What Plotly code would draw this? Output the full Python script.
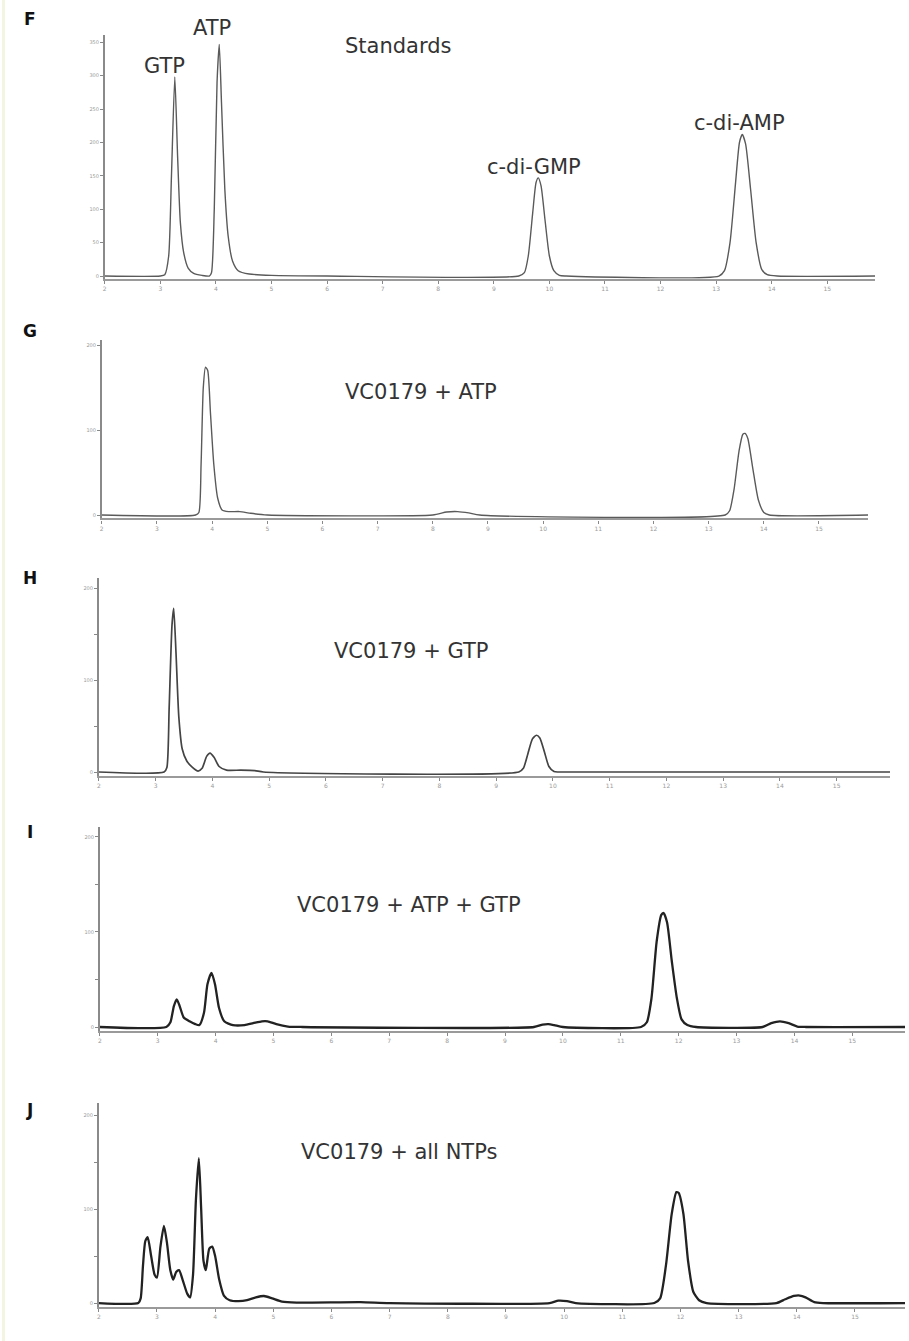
import plotly.graph_objects as go

W, H = 909, 1341

# ---------------- data ----------------
# retention time (min) / absorbance (arbitrary units)
f_time = [2.0, 3.0, 3.08, 3.15, 3.2, 3.26, 3.31, 3.36, 3.42, 3.5, 3.6, 3.75, 3.88,
          3.92, 3.97, 4.02, 4.06, 4.1, 4.16, 4.22, 4.3, 4.4, 4.6, 5.0, 6.0,
          9.45, 9.55, 9.62, 9.7, 9.76, 9.8, 9.85, 9.92, 10.0, 10.08, 10.18, 10.3,
          13.05, 13.15, 13.25, 13.35, 13.42, 13.47, 13.53, 13.62, 13.72, 13.82, 13.92, 14.1, 15.86]
f_signal = [0, 0, 2, 30, 150, 298, 180, 80, 35, 12, 4, 1, 0,
            5, 100, 290, 347, 260, 130, 60, 22, 8, 3, 1, 0,
            0, 5, 30, 95, 140, 147, 135, 85, 30, 8, 1, 0,
            0, 8, 50, 140, 200, 212, 198, 130, 50, 10, 2, 0, 0]

g_time = [2.0, 3.7, 3.76, 3.8, 3.84, 3.88, 3.92, 3.97, 4.03, 4.1, 4.18, 4.3, 4.5, 4.7, 5.0,
          8.0, 8.25, 8.45, 8.65, 8.85,
          13.3, 13.38, 13.46, 13.55, 13.62, 13.66, 13.71, 13.8, 13.9, 14.0, 14.1, 15.89]
g_signal = [0, 0, 3, 60, 150, 174, 170, 120, 60, 20, 6, 4, 4, 2, 0,
            0, 3.5, 4, 2.5, 0,
            0, 5, 30, 75, 95, 96, 90, 55, 18, 3, 0, 0]

h_time = [2.0, 3.15, 3.2, 3.24, 3.29, 3.32, 3.36, 3.41, 3.47, 3.55, 3.65, 3.75,
          3.82, 3.9, 3.96, 4.03, 4.12, 4.25, 4.5, 4.75, 4.9,
          9.4, 9.48, 9.56, 9.64, 9.71, 9.77, 9.85, 9.93, 10.02, 10.1, 15.94]
h_signal = [0, 0, 5, 70, 160, 178, 130, 60, 25, 12, 5, 1,
            4, 17, 20.5, 16, 6, 2, 2, 1.5, 0,
            0, 4, 20, 36, 40, 37, 22, 6, 0.5, 0, 0]

i_time = [2.0, 3.15, 3.22, 3.28, 3.33, 3.38, 3.45, 3.55, 3.65, 3.72,
          3.8, 3.86, 3.93, 3.99, 4.06, 4.15, 4.3, 4.5, 4.65, 4.8, 4.9, 5.05, 5.25, 5.5,
          9.5, 9.65, 9.75, 9.85, 10.0,
          11.35, 11.45, 11.53, 11.62, 11.7, 11.74, 11.8, 11.88, 11.97, 12.05, 12.15, 12.3,
          13.45, 13.6, 13.75, 13.9, 14.05, 14.2, 15.91]
i_signal = [0, 0, 5, 22, 29, 22, 10, 6, 3, 2,
            15, 45, 57, 45, 20, 6, 2, 2, 4, 6, 6, 3, 0.5, 0,
            0, 2.5, 3, 2, 0,
            0, 5, 30, 90, 118, 120, 110, 70, 30, 8, 2, 0,
            0, 4, 6, 4, 0.5, 0, 0]

j_time = [2.0, 2.68, 2.72, 2.76, 2.8, 2.84, 2.9, 2.96, 3.0, 3.06, 3.12, 3.17, 3.23, 3.28,
          3.33, 3.38, 3.44, 3.52, 3.57, 3.62, 3.67, 3.72, 3.76, 3.8, 3.84, 3.9, 3.95,
          4.0, 4.07, 4.15, 4.25, 4.4, 4.55, 4.7, 4.84, 4.98, 5.15, 5.4, 6.5, 7.0,
          9.75, 9.9, 10.05, 10.2,
          11.55, 11.65, 11.75, 11.85, 11.93, 11.97, 12.05, 12.13, 12.22, 12.32, 12.45,
          13.65, 13.8, 13.95, 14.05, 14.15, 14.3, 14.45, 15.86]
j_signal = [0, 0, 5, 40, 66, 70, 50, 30, 27, 60, 82, 65, 35, 25,
            33, 35, 25, 10, 6, 30, 110, 154, 100, 45, 35, 58, 60,
            50, 25, 8, 3, 2, 3, 6, 7.5, 5, 1.5, 0.5, 1, 0,
            0, 2.5, 2, 0,
            0, 5, 40, 95, 118, 117, 95, 45, 12, 3, 0,
            0, 4, 7.5, 8, 6, 1, 0, 0]

x_ticks = [2, 3, 4, 5, 6, 7, 8, 9, 10, 11, 12, 13, 14, 15]
f_yticks = [0, 50, 100, 150, 200, 250, 300, 350]
g_yticks = [0, 100, 200]
hij_yticks = [0, 50, 100, 150, 200]
hij_yticktext = ["0", "", "100", "", "200"]

panel_letters = ["F", "G", "H", "I", "J"]
panel_titles = ["Standards", "VC0179 + ATP", "VC0179 + GTP",
                "VC0179 + ATP + GTP", "VC0179 + all NTPs"]
peak_names = ["GTP", "ATP", "c-di-GMP", "c-di-AMP"]

# ---------------- layout spec (pixels) ----------------
panels = [
    dict(t=f_time, s=f_signal, l=103, r=875, xmax=15.86, top=35, bot=278.7, ymin=-4, ymax=361,
         yt=f_yticks, ytt=[str(v) for v in f_yticks], col="#5a5a5a", w=1.4),
    dict(t=g_time, s=g_signal, l=100, r=868, xmax=15.89, top=340, bot=518.4, ymin=-4, ymax=206,
         yt=g_yticks, ytt=[str(v) for v in g_yticks], col="#5a5a5a", w=1.4),
    dict(t=h_time, s=h_signal, l=97, r=890, xmax=15.94, top=578, bot=775.7, ymin=-4, ymax=211,
         yt=hij_yticks, ytt=hij_yticktext, col="#444444", w=1.7),
    dict(t=i_time, s=i_signal, l=98, r=905, xmax=15.91, top=827, bot=1030.8, ymin=-4, ymax=210.5,
         yt=hij_yticks, ytt=hij_yticktext, col="#222222", w=2.3),
    dict(t=j_time, s=j_signal, l=97, r=905, xmax=15.86, top=1103, bot=1306.8, ymin=-4, ymax=212.8,
         yt=hij_yticks, ytt=hij_yticktext, col="#222222", w=2.3),
]

fig = go.Figure()
layout = dict(width=W, height=H, margin=dict(l=0, r=0, t=0, b=0),
              paper_bgcolor="white", plot_bgcolor="white", showlegend=False)

for k, p in enumerate(panels):
    n = "" if k == 0 else str(k + 1)
    fig.add_trace(go.Scatter(x=p["t"], y=p["s"], mode="lines",
                             line=dict(color=p["col"], width=p["w"], shape="spline", smoothing=0.6),
                             xaxis="x" + n, yaxis="y" + n, hoverinfo="skip"))
    layout["xaxis" + n] = dict(
        domain=[p["l"] / W, p["r"] / W], range=[2, p["xmax"]], anchor="y" + n,
        tickvals=x_ticks, ticks="outside", ticklen=3, tickcolor="#888", tickwidth=1,
        showline=True, linecolor="#9a9a9a", linewidth=2.2, showgrid=False, zeroline=False,
        tickfont=dict(size=6, color="#9a9a9a", family="DejaVu Sans"))
    layout["yaxis" + n] = dict(
        domain=[1 - p["bot"] / H, 1 - p["top"] / H], range=[p["ymin"], p["ymax"]],
        anchor="x" + n, tickvals=p["yt"], ticktext=p["ytt"], ticks="outside", ticklen=3,
        tickcolor="#888", showline=True, linecolor="#8a8a8a", linewidth=1.6,
        showgrid=False, zeroline=False,
        tickfont=dict(size=5, color="#9a9a9a", family="DejaVu Sans"))

fig.update_layout(**layout)

def px_ann(text, x, y, size, bold=False, color="#333333"):
    fig.add_annotation(text=("<b>%s</b>" % text) if bold else text,
                       x=x / W, y=1 - y / H, xref="paper", yref="paper",
                       showarrow=False, xanchor="center", yanchor="middle",
                       font=dict(family="DejaVu Sans", size=size, color=color))

letter_pos = [(28, 19), (28, 331), (28, 578), (28, 832), (28, 1110)]
for t, (x, y) in zip(panel_letters, letter_pos):
    px_ann(t, x, y, 17, bold=True, color="#111111")

title_pos = [(397, 46), (420, 392), (410, 651), (408, 905), (398, 1152)]
for t, (x, y) in zip(panel_titles, title_pos):
    px_ann(t, x, y, 21)

peak_pos = [(163, 66), (210, 28), (533, 167), (739, 123)]
for t, (x, y) in zip(peak_names, peak_pos):
    px_ann(t, x, y, 21)

fig.add_shape(type="rect", xref="paper", yref="paper", x0=0, x1=3 / W, y0=0, y1=1,
              fillcolor="#f4f4e2", line=dict(width=0), layer="below")

fig.write_html("out.html", config={"displayModeBar": False},
               post_script="document.body.style.margin='0px';document.body.style.overflow='hidden';")
